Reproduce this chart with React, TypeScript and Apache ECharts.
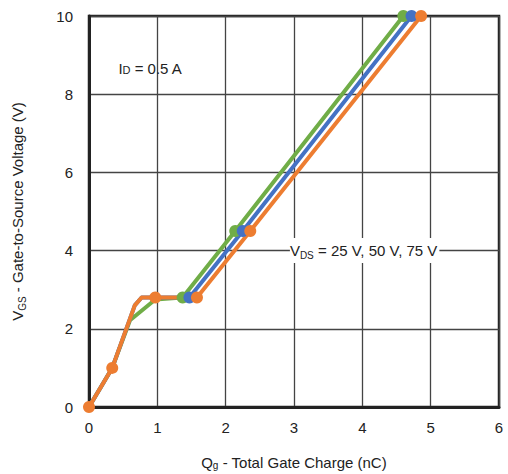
import React, { useEffect, useRef } from "react";
import * as echarts from "echarts";

const xTicks = [0, 1, 2, 3, 4, 5, 6];
const yTicks = [0, 2, 4, 6, 8, 10];

// V_DS = 25 V (green)
const greenQ = [0, 0.34, 0.6, 0.97, 1.37, 2.14, 4.6];
const greenV = [0, 1, 2.22, 2.75, 2.8, 4.5, 10];
const greenMarkers = [4, 5, 6];

// V_DS = 50 V (blue)
const blueQ = [0, 0.34, 0.67, 0.77, 1.47, 2.25, 4.72];
const blueV = [0, 1, 2.6, 2.8, 2.8, 4.5, 10];
const blueMarkers = [4, 5, 6];

// V_DS = 75 V (orange)
const orangeQ = [0, 0.34, 0.67, 0.77, 0.97, 1.58, 2.36, 4.86];
const orangeV = [0, 1, 2.6, 2.8, 2.8, 2.8, 4.5, 10];
const orangeMarkers = [0, 1, 4, 5, 6, 7];

const idNote = { q: 0.43, v: 8.67 };
const vdsNote = { q: 2.94, v: 4 };

const FONT = "Liberation Sans, Arial, Helvetica, sans-serif";

function mkSeries(name: string, color: string, qs: number[], vs: number[], markers: number[]) {
  return {
    name,
    type: "line",
    data: qs.map((q, i) => ({
      value: [q, vs[i]],
      symbol: markers.includes(i) ? "circle" : "none",
    })),
    symbol: "circle",
    symbolSize: 12,
    showSymbol: true,
    showAllSymbol: true,
    lineStyle: { color, width: 4, cap: "round", join: "round" },
    itemStyle: { color },
    emphasis: { disabled: true },
  };
}

const richMain = { fontSize: 15, color: "#222", fontFamily: FONT };

export default function App() {
  const ref = useRef<HTMLDivElement>(null);
  useEffect(() => {
    document.body.style.margin = "0";
    const chart = echarts.init(ref.current!, null, { renderer: "svg" });
    const orange = mkSeries("75 V", "#ED7D31", orangeQ, orangeV, orangeMarkers) as any;
    orange.markPoint = {
      symbol: "circle",
      symbolSize: 0,
      silent: true,
      data: [
        {
          coord: [idNote.q, idNote.v],
          label: {
            show: true,
            position: "inside",
            align: "left",
            verticalAlign: "middle",
            formatter: "{m|I}{s|D}{m| = 0.5 A}",
            rich: {
              m: richMain,
              s: { fontSize: 11, color: "#222", fontFamily: FONT, padding: [3, 0, 0, 0] },
            },
          },
        },
        {
          coord: [vdsNote.q, vdsNote.v],
          label: {
            show: true,
            position: "inside",
            align: "left",
            verticalAlign: "middle",
            backgroundColor: "#fff",
            padding: [3, 2, 3, 0],
            formatter: "{m|V}{s|DS}{m| = 25 V, 50 V, 75 V}",
            rich: {
              m: richMain,
              s: { fontSize: 10, color: "#222", fontFamily: FONT, padding: [9, 0, 0, 0] },
            },
          },
        },
      ],
    };
    chart.setOption({
      animation: false,
      textStyle: { fontFamily: FONT },
      grid: {
        left: 89,
        right: 9,
        top: 16,
        bottom: 67,
        outerBoundsMode: "none",
        containLabel: false,
        show: true,
        borderColor: "#222",
        borderWidth: 2.5,
        backgroundColor: "transparent",
      },
      xAxis: {
        type: "value",
        min: xTicks[0],
        max: xTicks[xTicks.length - 1],
        interval: 1,
        axisLine: { show: true, lineStyle: { color: "#222", width: 3 } },
        axisTick: { show: false },
        splitLine: { show: true, lineStyle: { color: "#444", width: 1.3 } },
        axisLabel: { color: "#222", fontSize: 15, margin: 13, fontFamily: FONT },
        name: "{m|Q}{s|g}{m| - Total Gate Charge (nC)}",
        nameLocation: "middle",
        nameGap: 47,
        nameTextStyle: {
          rich: {
            m: richMain,
            s: { fontSize: 10, color: "#222", fontFamily: FONT, padding: [6, 0, 0, 0] },
          },
        },
      },
      yAxis: {
        type: "value",
        min: yTicks[0],
        max: yTicks[yTicks.length - 1],
        interval: 2,
        axisLine: { show: true, lineStyle: { color: "#222", width: 3 } },
        axisTick: { show: false },
        splitLine: { show: true, lineStyle: { color: "#444", width: 1.3 } },
        axisLabel: { color: "#222", fontSize: 15, margin: 16, fontFamily: FONT },
        name: "{m|V}{s|GS}{m| - Gate-to-Source Voltage (V)}",
        nameLocation: "middle",
        nameGap: 62,
        nameTextStyle: {
          rich: {
            m: richMain,
            s: { fontSize: 10, color: "#222", fontFamily: FONT, padding: [9, 0, 0, 0] },
          },
        },
      },
      series: [
        mkSeries("25 V", "#70AD47", greenQ, greenV, greenMarkers),
        mkSeries("50 V", "#4472C4", blueQ, blueV, blueMarkers),
        orange,
      ],
    });
    return () => chart.dispose();
  }, []);
  return <div ref={ref} style={{ width: 508, height: 474 }} />;
}
